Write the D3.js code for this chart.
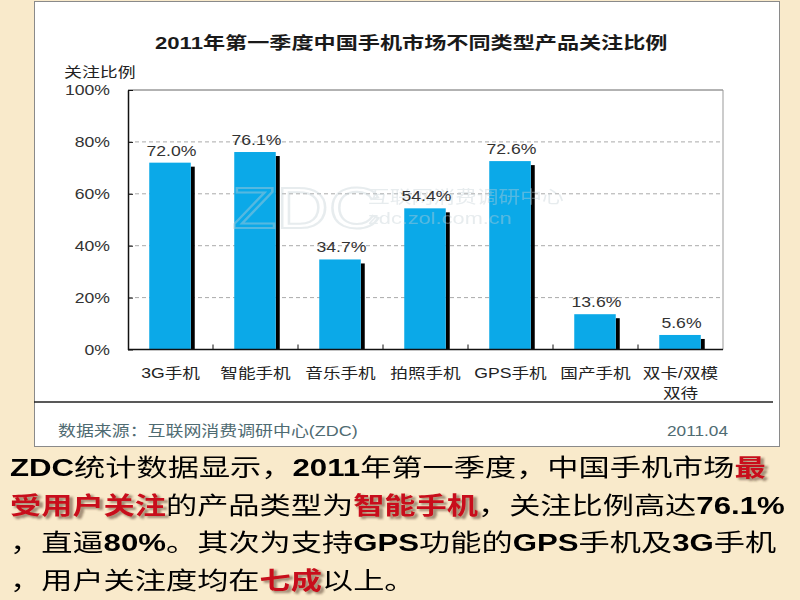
<!DOCTYPE html>
<html>
<head>
<meta charset="utf-8">
<script src="https://cdn.jsdelivr.net/npm/d3@7"></script>
<style>
  html, body { margin: 0; padding: 0; background: #f9eacb; }
  svg { display: block; }
</style>
</head>
<body>
<svg id="chart" width="800" height="600"></svg>
<script>
// data
var categories = ['3G手机', '智能手机', '音乐手机', '拍照手机', 'GPS手机', '国产手机', '双卡/双模|双待']
var values = [72.0, 76.1, 34.7, 54.4, 72.6, 13.6, 5.6]
var yTicks = [0, 20, 40, 60, 80, 100]
var title = '2011年第一季度中国手机市场不同类型产品关注比例'
var yTitle = '关注比例'
var source = '数据来源：互联网消费调研中心(ZDC)'
var dateText = '2011.04'
// paragraph under the chart: [text, style] b = bold latin, r = red
var para = [
    [['ZDC', 'b'], ['统计数据显示，'], ['2011', 'b'], ['年第一季度，中国手机市场'], ['最', 'r']],
    [['受用户关注', 'r'], ['的产品类型为'], ['智能手机', 'r'], ['，关注比例高达'], ['76.1%', 'b']],
    [['，直逼'], ['80%', 'b'], ['。其次为支持'], ['GPS', 'b'], ['功能的'], ['GPS', 'b'], ['手机及'], ['3G', 'b'], ['手机']],
    [['，用户关注度均在'], ['七成', 'r'], ['以上。']]
]

var FONT = '"Liberation Sans", Arial, "Noto Sans CJK SC", sans-serif'
var K = 1.26 // the picture is stretched sideways
var svg = d3.select('#chart')

// shadow only under the red words (alpha taken from red minus green)
var f = svg.append('defs').append('filter').attr('id', 'redShadow')
    .attr('x', '-5%').attr('y', '-20%').attr('width', '110%').attr('height', '150%')
f.append('feColorMatrix').attr('in', 'SourceGraphic').attr('type', 'matrix')
    .attr('values', '0 0 0 0 0  0 0 0 0 0  0 0 0 0 0  1.4 -1.4 0 0 0').attr('result', 'm')
f.append('feGaussianBlur').attr('in', 'm').attr('stdDeviation', 0.8).attr('result', 'b')
f.append('feOffset').attr('in', 'b').attr('dx', 2).attr('dy', 2).attr('result', 'o')
f.append('feFlood').attr('flood-color', '#4a3020').attr('flood-opacity', 0.6)
f.append('feComposite').attr('in2', 'o').attr('operator', 'in').attr('result', 's')
var fm = f.append('feMerge')
fm.append('feMergeNode').attr('in', 's')
fm.append('feMergeNode').attr('in', 'SourceGraphic')

// text placed with a horizontal stretch
function stext (g, x, y, str, k) {
    return g.append('text')
        .attr('transform', 'translate(' + x + ',' + y + ') scale(' + k + ',1)')
        .attr('font-family', FONT)
        .text(str)
}
// stretch a text so that it fills a given width
function fit (t, x, y, w) {
    var len = t.node().getComputedTextLength()
    t.attr('transform', 'translate(' + x + ',' + y + ') scale(' + (w / len) + ',1)')
}

// background + white panel
svg.append('rect').attr('width', 800).attr('height', 600).attr('fill', '#f9eacb')
svg.append('rect')
    .attr('x', 34.5).attr('y', 1.5).attr('width', 745).attr('height', 445)
    .attr('fill', '#fff').attr('stroke', '#8a8a8a')

// title
var tt = svg.append('text').attr('font-family', FONT).attr('font-weight', 'bold')
    .attr('font-size', 17).attr('fill', '#1a1a1a').text(title)
fit(tt, 155, 49, 513)

var plot = { l: 128, r: 723, t: 90, b: 349.5 }
var y = d3.scaleLinear().domain([0, 100]).range([plot.b, plot.t])
var x = d3.scaleBand().domain(categories).range([plot.l, plot.r])
    .paddingInner(0.5).paddingOuter(0.25)

// grid
svg.append('g').selectAll('line')
    .data(yTicks.filter(function (d) { return d > 0 && d < 100 }))
    .enter().append('line')
    .attr('x1', plot.l).attr('x2', plot.r)
    .attr('y1', function (d) { return y(d) }).attr('y2', function (d) { return y(d) })
    .attr('stroke', '#aaa').attr('stroke-dasharray', '4,3')

// frame
svg.append('line').attr('x1', plot.l).attr('x2', plot.r).attr('y1', plot.t).attr('y2', plot.t)
    .attr('stroke', '#666')
svg.append('line').attr('x1', plot.r).attr('x2', plot.r).attr('y1', plot.t).attr('y2', plot.b)
    .attr('stroke', '#999')

// y axis
var yAxis = svg.append('g')
    .attr('transform', 'translate(' + plot.l + ',0)')
    .call(d3.axisLeft(y).tickValues(yTicks).tickFormat(function (d) { return d + '%' })
        .tickSizeInner(-5).tickSizeOuter(0).tickPadding(18))
yAxis.select('.domain').attr('stroke', '#111').attr('stroke-width', 1.5)
yAxis.selectAll('.tick line').attr('stroke', '#111')
yAxis.selectAll('text')
    .attr('font-family', FONT).attr('font-size', 14).attr('fill', '#333')
    .attr('x', null).attr('dy', '0.35em')
    .attr('transform', 'translate(-18,0) scale(' + K + ',1)')
    .attr('text-anchor', 'end')
stext(svg, 64, 77, yTitle, 1.28).attr('font-size', 14).attr('fill', '#222')

// bars with the black edge on the right
var bars = svg.append('g')
bars.selectAll('rect.shadow')
    .data(values).enter().append('rect')
    .attr('class', 'shadow')
    .attr('x', function (d, i) { return x(categories[i]) + x.bandwidth() - 1 })
    .attr('y', function (d) { return y(d) + 4 })
    .attr('width', 4)
    .attr('height', function (d) { return y(0) - y(d) - 4 })
    .attr('fill', '#000')
bars.selectAll('rect.bar')
    .data(values).enter().append('rect')
    .attr('class', 'bar')
    .attr('x', function (d, i) { return x(categories[i]) })
    .attr('y', function (d) { return y(d) })
    .attr('width', x.bandwidth() - 1)
    .attr('height', function (d) { return y(0) - y(d) })
    .attr('fill', '#0ba9e8')

// faint watermark lying over the bars
var wm = svg.append('g').attr('opacity', 0.4)
stext(wm, 232, 228, 'ZDC', 1.25).attr('font-size', 58).attr('fill', 'none')
    .attr('stroke', '#c4d0d6').attr('stroke-width', 2)
stext(wm, 368, 203, '互联网消费调研中心', 1.28).attr('font-size', 17).attr('fill', '#c4d0d6')
stext(wm, 368, 224, 'zdc.zol.com.cn', 1.28).attr('font-size', 17).attr('fill', '#c4d0d6')

// value labels
values.forEach(function (v, i) {
    stext(svg, x(categories[i]) + x.bandwidth() / 2 + 1, y(v) - 7, v.toFixed(1) + '%', K)
        .attr('font-size', 14).attr('fill', '#333').attr('text-anchor', 'middle')
})

// x axis line and small ticks between groups
svg.append('line').attr('x1', plot.l).attr('x2', plot.r).attr('y1', plot.b).attr('y2', plot.b)
    .attr('stroke', '#111').attr('stroke-width', 1.5)
svg.append('g').selectAll('line')
    .data(categories.slice(1)).enter().append('line')
    .attr('x1', function (d) { return x(d) - x.step() * x.paddingInner() / 2 })
    .attr('x2', function (d) { return x(d) - x.step() * x.paddingInner() / 2 })
    .attr('y1', plot.b).attr('y2', plot.b - 5)
    .attr('stroke', '#111')

categories.forEach(function (c) {
    c.split('|').forEach(function (s, j) {
        stext(svg, x(c) + x.bandwidth() / 2, 378 + j * 19.5, s, K)
            .attr('font-size', 14).attr('fill', '#222').attr('text-anchor', 'middle')
    })
})

// footer of the chart
svg.append('line').attr('x1', 34).attr('x2', 773).attr('y1', 402).attr('y2', 402)
    .attr('stroke', '#222').attr('stroke-width', 1.5)
var src = svg.append('text').attr('font-family', FONT).attr('font-size', 15)
    .attr('fill', '#4f6b72').text(source)
fit(src, 58, 436, 300)
var dt = svg.append('text').attr('font-family', FONT).attr('font-size', 15)
    .attr('fill', '#4f6b72').text(dateText)
fit(dt, 667, 436, 61)

// paragraph
var PK = 1.3
para.forEach(function (line, i) {
    var tx = stext(svg, 10, 476 + i * 37.5, '', PK).attr('font-size', 24)
        .attr('filter', 'url(#redShadow)')
    line.forEach(function (seg) {
        var st = seg[1]
        tx.append('tspan').text(seg[0])
            .attr('font-weight', st ? 'bold' : null)
            .attr('fill', st === 'r' ? '#c8101a' : '#000')
    })
})
</script>
</body>
</html>
